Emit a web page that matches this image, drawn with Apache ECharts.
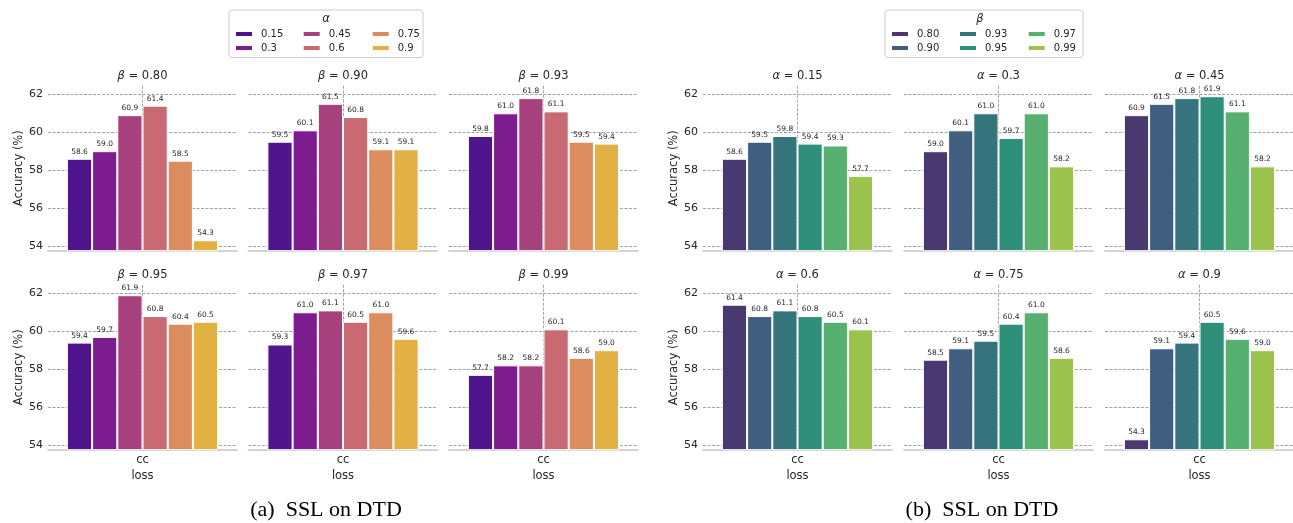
<!DOCTYPE html>
<html>
<head>
<meta charset="utf-8">
<script src="https://cdn.jsdelivr.net/npm/echarts@6/dist/echarts.min.js"></script>
<style>
  html, body { margin: 0; padding: 0; background: #ffffff; }
  #chart { width: 1293px; height: 523px; }
</style>
</head>
<body>
<div id="chart"></div>
<script>
// Hyper-parameter values
const alphas = ['0.15', '0.3', '0.45', '0.6', '0.75', '0.9'];
const betas = ['0.80', '0.90', '0.93', '0.95', '0.97', '0.99'];

// Accuracy (%) of SSL on DTD for each beta, ordered by alpha
const accBeta080 = [58.6, 59.0, 60.9, 61.4, 58.5, 54.3];
const accBeta090 = [59.5, 60.1, 61.5, 60.8, 59.1, 59.1];
const accBeta093 = [59.8, 61.0, 61.8, 61.1, 59.5, 59.4];
const accBeta095 = [59.4, 59.7, 61.9, 60.8, 60.4, 60.5];
const accBeta097 = [59.3, 61.0, 61.1, 60.5, 61.0, 59.6];
const accBeta099 = [57.7, 58.2, 58.2, 60.1, 58.6, 59.0];

const xCategories = ['cc'];
const yTicks = [54, 56, 58, 60, 62];

// plasma shades for alpha, viridis shades for beta
const alphaColors = ['#50148c', '#7d1c8e', '#a6417e', '#c96972', '#dd8c5f', '#e2b144'];
const betaColors = ['#4a3871', '#3f5e80', '#35737d', '#2e8f7b', '#57af70', '#9bc34d'];

const accByBeta = [accBeta080, accBeta090, accBeta093, accBeta095, accBeta097, accBeta099];

// ---- layout ----
const FONT = 'DejaVu Sans';
const TEXT = '#262626';
const GRID_W = 189;
const GRID_H = 164.9;
const Y_MIN = 53.75;
const Y_MAX = 62.45;
const COLS_LEFT = [48, 248.5, 449];
const COLS_RIGHT = [703, 904, 1105];
const ROWS = [85.8, 284.8];
const dashed = { type: [3, 1.5], color: '#8c8c8c', width: 0.8 };

const grids = [], xAxes = [], yAxes = [], series = [], graphics = [];

function addPanel(gx, gy, symbol, paramLabel, names, values, colors, showY, showX) {
  const g = grids.length;
  grids.push({ left: gx, top: gy, width: GRID_W, height: GRID_H, outerBoundsMode: 'none' });
  // category axis carrying the bars
  xAxes.push({
    gridIndex: g, type: 'category', data: xCategories,
    axisLine: { show: true, onZero: false, lineStyle: { color: '#d4d4d4', width: 2 } },
    axisTick: { show: false },
    axisLabel: { show: showX, fontFamily: FONT, fontSize: 11.5, color: TEXT, margin: 4 },
    splitLine: { show: false },
    name: showX ? 'loss' : '', nameLocation: 'middle', nameGap: 20,
    nameTextStyle: { fontFamily: FONT, fontSize: 11.5, color: TEXT }
  });
  // helper axis drawing the dashed line through the category centre
  xAxes.push({
    gridIndex: g, type: 'value', position: 'top', min: -1, max: 1, interval: 1,
    axisLine: { show: false }, axisTick: { show: false }, axisLabel: { show: false },
    splitLine: { show: true, showMinLine: false, showMaxLine: false, lineStyle: dashed }
  });
  yAxes.push({
    gridIndex: g, type: 'value', min: Y_MIN, max: Y_MAX,
    axisLine: { show: false },
    axisTick: { show: false, customValues: yTicks },
    axisLabel: { show: showY, customValues: yTicks, fontFamily: FONT, fontSize: 11, color: TEXT, margin: 5 },
    splitLine: { show: true, lineStyle: dashed },
    name: showY ? 'Accuracy (%)' : '', nameLocation: 'middle', nameGap: 22,
    nameTextStyle: { fontFamily: FONT, fontSize: 11.5, color: TEXT }
  });
  names.forEach((n, j) => {
    series.push({
      type: 'bar', name: n, xAxisIndex: 2 * g, yAxisIndex: g,
      data: [values[j]],
      barGap: '0%', barCategoryGap: '20%',
      itemStyle: { color: colors[j], borderColor: '#ffffff', borderWidth: 1 },
      label: {
        show: true, position: 'top', distance: 3,
        fontFamily: FONT, fontSize: 7.5, color: TEXT,
        formatter: p => p.value.toFixed(1)
      }
    });
  });
  graphics.push({
    type: 'text', x: gx + GRID_W / 2, y: gy - 9.5, z: 10,
    style: {
      text: '{s|' + symbol + '} = ' + paramLabel,
      rich: { s: { fontStyle: 'italic', fontFamily: FONT, fontSize: 11.5, fill: TEXT } },
      fontFamily: FONT, fontSize: 11.5, fill: TEXT,
      align: 'center', verticalAlign: 'middle'
    }
  });
}

// (a) one panel per beta, bars coloured by alpha
betas.forEach((b, k) => {
  const row = Math.floor(k / 3), col = k % 3;
  addPanel(COLS_LEFT[col], ROWS[row], 'β', b, alphas, accByBeta[k], alphaColors, col === 0, row === 1);
});
// (b) one panel per alpha, bars coloured by beta
alphas.forEach((a, k) => {
  const row = Math.floor(k / 3), col = k % 3;
  const vals = accByBeta.map(r => r[k]);
  addPanel(COLS_RIGHT[col], ROWS[row], 'α', a, betas, vals, betaColors, col === 0, row === 1);
});

// legends: three columns of two entries each
const legends = [];
function addLegendBlock(names, colX, boxX, boxW, titleX, symbol) {
  graphics.push({
    type: 'rect', z: 0,
    shape: { x: boxX, y: 10, width: boxW, height: 47.5, r: 3 },
    style: { fill: '#ffffff', stroke: '#cccccc', lineWidth: 1 }
  });
  graphics.push({
    type: 'text', x: titleX, y: 19.5, z: 10,
    style: { text: symbol, fontFamily: FONT, fontStyle: 'italic', fontSize: 11.5, fill: TEXT, align: 'center', verticalAlign: 'middle' }
  });
  for (let c = 0; c < 3; c++) {
    legends.push({
      orient: 'vertical', left: colX[c], top: 28, padding: 0, itemGap: 2,
      itemWidth: 18, itemHeight: 6, icon: 'rect',
      data: [names[2 * c], names[2 * c + 1]],
      textStyle: { fontFamily: FONT, fontSize: 10, color: TEXT, lineHeight: 12, padding: [0, 0, 0, 3] }
    });
  }
}
addLegendBlock(alphas, [234, 301.7, 370.7], 229, 194, 326, 'α');
addLegendBlock(betas, [890, 958, 1026.7], 885, 198, 980, 'β');

// sub-figure captions
graphics.push({
  type: 'text', x: 326, y: 510, z: 10,
  style: { text: '(a)  SSL on DTD', fontFamily: 'Liberation Serif', fontSize: 22, fill: '#000000', align: 'center', verticalAlign: 'middle' }
});
graphics.push({
  type: 'text', x: 982, y: 510, z: 10,
  style: { text: '(b)  SSL on DTD', fontFamily: 'Liberation Serif', fontSize: 22, fill: '#000000', align: 'center', verticalAlign: 'middle' }
});

const chart = echarts.init(document.getElementById('chart'));
chart.setOption({
  animation: false,
  backgroundColor: '#ffffff',
  grid: grids,
  xAxis: xAxes,
  yAxis: yAxes,
  series: series,
  legend: legends,
  graphic: graphics
});
</script>
</body>
</html>
